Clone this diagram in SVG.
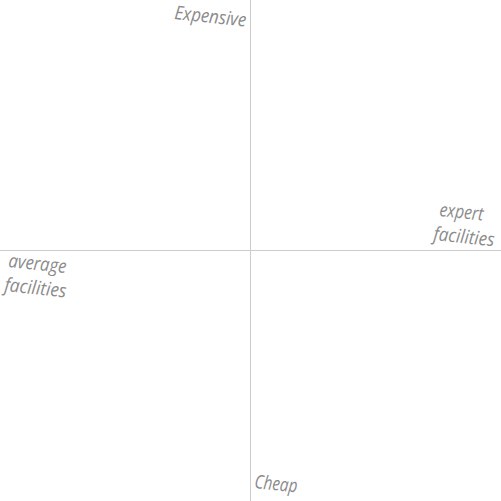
<svg xmlns="http://www.w3.org/2000/svg" width="501" height="501" viewBox="0 0 501 501">
<style>
.ax{stroke:#cccccc;stroke-width:1;fill:none}
.lb{font-family:"Open Sans","DejaVu Sans",sans-serif;font-size:19px;fill:#8a8a8a;font-style:italic}
</style>
<rect width="501" height="501" fill="#ffffff"/>
<g id="connectors">
<line class="ax" x1="250.5" y1="0" x2="250.5" y2="501"/>
<line class="ax" x1="0" y1="250.5" x2="501" y2="250.5"/>
</g>
<g id="expensive"><text class="lb" transform="translate(174,19) rotate(6)" textLength="72" lengthAdjust="spacingAndGlyphs">Expensive</text></g>
<g id="expert"><text class="lb" transform="translate(439,216) rotate(6)" textLength="44" lengthAdjust="spacingAndGlyphs">expert</text>
<text class="lb" transform="translate(433,240) rotate(6)" textLength="61" lengthAdjust="spacingAndGlyphs">facilities</text></g>
<g id="average"><text class="lb" transform="translate(8,267) rotate(6)" textLength="58" lengthAdjust="spacingAndGlyphs">average</text>
<text class="lb" transform="translate(4,291) rotate(6)" textLength="62" lengthAdjust="spacingAndGlyphs">facilities</text></g>
<g id="cheap"><text class="lb" transform="translate(254,488) rotate(6)" textLength="43" lengthAdjust="spacingAndGlyphs">Cheap</text></g>
</svg>
